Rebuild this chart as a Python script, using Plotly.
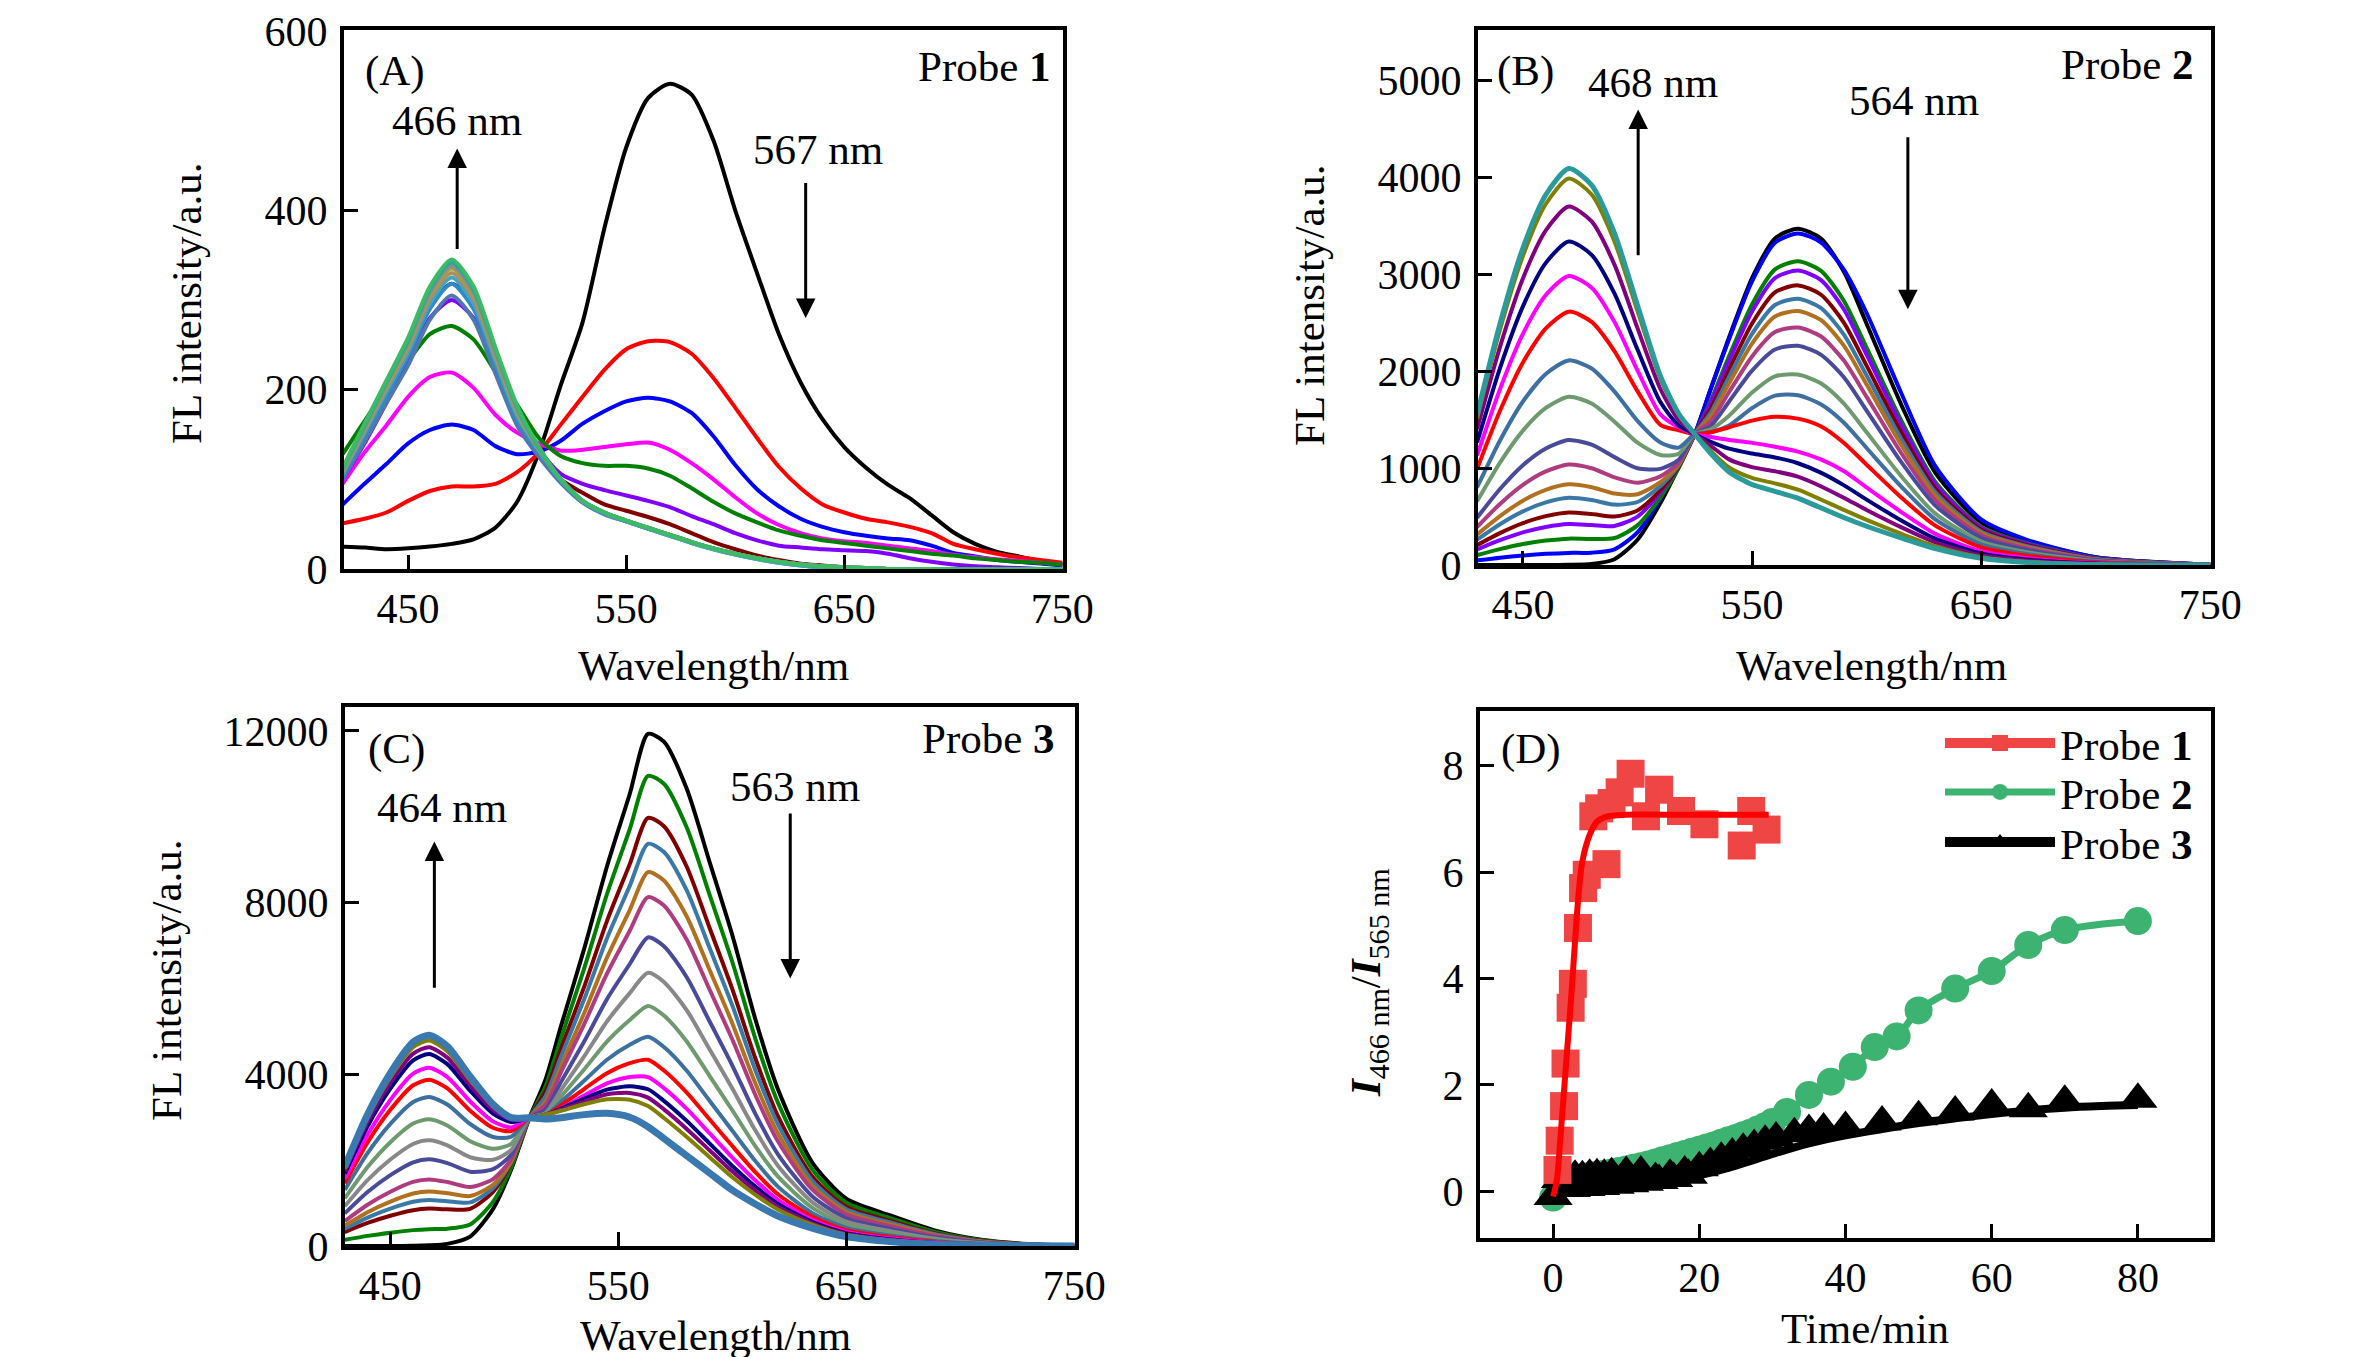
import plotly.graph_objects as go

FONT = "Liberation Serif"

# ---------------- (A) Probe 1 spectra ----------------
wl_a = [420, 430, 440, 450, 460, 470, 480, 490, 500, 510, 520, 530, 540, 550, 560, 570, 580,
        590, 600, 610, 620, 630, 640, 650, 660, 670, 680, 690, 700, 710, 720, 730, 740, 750]
a_black = [25, 24, 22, 23, 25, 28, 33, 46, 75, 130, 205, 275, 380, 470, 525, 541, 529, 478, 400, 330,
           262, 208, 167, 136, 113, 94, 79, 60, 41, 28, 19, 14, 9, 5]
a_red = [51, 56, 63, 76, 87, 92, 92, 95, 108, 130, 161, 192, 222, 245, 254, 253, 240, 213, 180, 146,
         114, 90, 72, 63, 56, 52, 47, 40, 28, 22, 17, 13, 10, 7]
a_blue = [72, 95, 117, 140, 155, 161, 155, 137, 128, 131, 143, 162, 176, 187, 191, 187, 174, 148, 116, 89,
          70, 56, 47, 41, 37, 34, 32, 26, 18, 14, 10, 8, 6, 4]
a_magenta = [95, 130, 160, 192, 214, 219, 202, 172, 152, 140, 132, 133, 136, 139, 141, 133, 118, 100, 80, 62,
             49, 40, 34, 31, 29, 26, 23, 20, 16, 13, 11, 9, 7, 5]
a_green = [128, 165, 200, 232, 262, 271, 256, 220, 183, 146, 126, 118, 115, 115, 112, 104, 90, 75, 62, 52,
           43, 37, 32, 29, 26, 23, 20, 17, 15, 12, 10, 8, 7, 5]
a_violet = [100, 140, 185, 230, 280, 300, 280, 225, 170, 133, 106, 95, 88, 82, 76, 69, 59, 50, 40, 32,
            26, 24, 22, 21, 20, 17, 12, 8, 5, 3, 2, 1, 0, 0]
a_darkred = [105, 150, 195, 242, 295, 318, 296, 236, 174, 132, 100, 85, 72, 65, 58, 50, 40, 30, 22, 15,
             10, 6, 4, 2, 1, 0, 0, 0, 0, 0, 0, 0, 0, 0]
a_slate = [100, 142, 185, 227, 278, 305, 278, 218, 160, 125, 96, 74, 61, 53, 45, 38, 30, 23, 17, 12,
           8, 5, 3, 2, 1, 0, 0, 0, 0, 0, 0, 0, 0, 0]
a_c1 = [104, 149, 193, 237, 290, 318, 290, 228, 167, 130, 98, 75, 62, 53, 45, 37, 29, 22, 16, 11,
        7, 4, 2, 1, 0, 0, 0, 0, 0, 0, 0, 0, 0, 0]
a_c2 = [106, 152, 198, 242, 296, 325, 296, 233, 171, 132, 99, 76, 62, 53, 45, 37, 29, 22, 16, 11,
        7, 4, 2, 1, 0, 0, 0, 0, 0, 0, 0, 0, 0, 0]
a_c3 = [108, 154, 201, 246, 301, 330, 301, 236, 174, 133, 100, 76, 63, 54, 46, 38, 30, 23, 17, 12,
        8, 5, 3, 2, 1, 0, 0, 0, 0, 0, 0, 0, 0, 0]
a_c4 = [110, 157, 204, 250, 306, 335, 306, 240, 176, 134, 100, 76, 63, 54, 46, 38, 30, 23, 17, 12,
        8, 5, 3, 2, 1, 0, 0, 0, 0, 0, 0, 0, 0, 0]
a_c5 = [111, 158, 206, 252, 308, 338, 308, 242, 178, 135, 100, 76, 63, 54, 46, 38, 30, 23, 17, 12,
        8, 5, 3, 2, 1, 0, 0, 0, 0, 0, 0, 0, 0, 0]
a_c6 = [112, 160, 208, 255, 312, 342, 312, 245, 180, 135, 100, 76, 63, 54, 46, 38, 30, 23, 17, 12,
        8, 5, 3, 2, 1, 0, 0, 0, 0, 0, 0, 0, 0, 0]
a_c7 = [113, 162, 210, 258, 315, 345, 315, 247, 182, 136, 100, 76, 63, 54, 46, 38, 30, 23, 17, 12,
        8, 5, 3, 2, 1, 0, 0, 0, 0, 0, 0, 0, 0, 0]
curves_a = [a_black, a_red, a_blue, a_magenta, a_green, a_violet, a_darkred, a_slate,
            a_c1, a_c2, a_c3, a_c4, a_c5, a_c6, a_c7]
colors_a = ["#000000", "#ff0000", "#0000ff", "#ff00ff", "#008000", "#8000ff", "#800000", "#4f79ad",
            "#2e8bc9", "#3ca7c8", "#a89060", "#a8a040", "#8c8c8c", "#26a6a6", "#3cba64"]

# ---------------- (B) Probe 2 spectra ----------------
wl_b = [430, 440, 450, 460, 470, 480, 490, 500, 510, 518, 525, 532, 540, 550, 560, 570, 580,
        590, 600, 615, 630, 650, 670, 700, 750]
b_black = [0, 0, 0, 0, 2, 10, 60, 260, 640, 1010, 1350, 1820, 2350, 2960, 3370, 3470, 3370, 3030, 2490, 1660, 950, 440, 250, 80, 2]
b_blue = [47, 75, 98, 115, 125, 127, 162, 336, 685, 1036, 1350, 1818, 2332, 2926, 3325, 3421, 3330, 3050, 2600, 1780, 1020, 470, 260, 80, 2]
b_green = [102, 164, 216, 252, 272, 268, 279, 409, 698, 1002, 1350, 1696, 2155, 2689, 3050, 3134, 3038, 2729, 2243, 1496, 857, 396, 224, 72, 2]
b_violet = [160, 256, 337, 393, 423, 412, 403, 499, 749, 1024, 1350, 1675, 2108, 2616, 2960, 3038, 2942, 2641, 2170, 1448, 830, 383, 217, 69, 2]
b_darkred = [205, 329, 432, 504, 542, 526, 500, 563, 773, 1019, 1350, 1617, 2019, 2492, 2813, 2885, 2791, 2504, 2057, 1373, 787, 363, 205, 65, 2]
b_steel2 = [262, 421, 553, 646, 693, 670, 623, 650, 814, 1029, 1350, 1574, 1944, 2384, 2683, 2747, 2654, 2380, 1955, 1306, 749, 345, 194, 62, 2]
b_brown = [315, 505, 664, 775, 832, 803, 737, 730, 854, 1039, 1350, 1535, 1875, 2285, 2564, 2621, 2529, 2266, 1862, 1244, 714, 329, 184, 58, 1]
b_pink = [392, 630, 827, 966, 1036, 998, 904, 849, 914, 1057, 1350, 1485, 1785, 2152, 2403, 2451, 2360, 2112, 1735, 1160, 666, 306, 171, 54, 1]
b_slate = [488, 784, 1030, 1203, 1290, 1241, 1113, 998, 992, 1087, 1350, 1434, 1687, 2005, 2224, 2261, 2171, 1939, 1593, 1066, 613, 281, 156, 49, 1]
b_greygreen = [657, 1056, 1386, 1620, 1735, 1667, 1479, 1262, 1135, 1148, 1350, 1400, 1540, 1779, 1947, 1965, 1875, 1668, 1370, 919, 530, 242, 132, 41, 1]
b_steel = [800, 1285, 1687, 1971, 2111, 2027, 1789, 1487, 1264, 1211, 1350, 1370, 1440, 1618, 1747, 1751, 1659, 1471, 1207, 812, 470, 213, 114, 35, 1]
b_red = [990, 1591, 2090, 2441, 2614, 2508, 2205, 1794, 1446, 1390, 1350, 1370, 1420, 1490, 1530, 1510, 1432, 1262, 1035, 699, 406, 182, 96, 29, 1]
b_magenta = [1130, 1815, 2384, 2785, 2982, 2860, 2506, 2008, 1554, 1420, 1350, 1320, 1290, 1260, 1220, 1170, 1090, 970, 800, 548, 321, 142, 71, 21, 0]
b_navy = [1265, 2032, 2668, 3117, 3338, 3200, 2799, 2223, 1681, 1440, 1350, 1270, 1200, 1150, 1110, 1050, 953, 824, 675, 461, 272, 119, 57, 16, 0]
b_purple = [1401, 2251, 2956, 3453, 3698, 3545, 3097, 2444, 1816, 1494, 1350, 1230, 1090, 1010, 967, 912, 813, 694, 568, 391, 233, 100, 45, 12, 0]
b_olive = [1511, 2428, 3188, 3725, 3988, 3822, 3336, 2621, 1920, 1551, 1350, 1176, 1006, 898, 842, 777, 676, 569, 465, 323, 194, 81, 34, 8, 0]
b_teal = [1550, 2490, 3270, 3820, 4090, 3920, 3420, 2680, 1950, 1560, 1350, 1150, 960, 830, 760, 690, 590, 490, 400, 280, 170, 70, 27, 6, 0]
curves_b = [b_black, b_blue, b_green, b_violet, b_darkred, b_steel2, b_brown, b_pink, b_slate,
            b_greygreen, b_steel, b_red, b_magenta, b_navy, b_purple, b_olive, b_teal]
colors_b = ["#000000", "#0000ff", "#008000", "#8000ff", "#800000", "#3a78a8", "#b07020", "#b03c80", "#4a4a9a",
            "#6f9a70", "#3d6fa0", "#ff0000", "#ff00ff", "#000080", "#800080", "#808000", "#2a9a9a"]

# ---------------- (C) Probe 3 spectra ----------------
wl_c = [430, 440, 450, 460, 467, 475, 485, 495, 503, 511, 518, 525, 535, 545, 555, 563, 570,
        580, 590, 600, 610, 620, 635, 650, 670, 690, 710, 730, 750]
c_black = [0, 0, 0, 5, 15, 50, 220, 860, 1780, 2985, 3870, 5150, 6920, 8840, 10530, 11930, 11750, 10650, 8950, 7240, 5300, 3650, 1950, 1100, 700, 345, 140, 45, 5]
c_green = [142, 236, 310, 370, 392, 403, 502, 1028, 1832, 2985, 3711, 4865, 6464, 8194, 9708, 10951, 10768, 9747, 8186, 6616, 4845, 3339, 1787, 1007, 637, 314, 127, 41, 5]
c_darkred = [324, 536, 705, 835, 871, 854, 866, 1261, 1938, 2985, 3595, 4618, 6037, 7569, 8896, 9971, 9779, 8835, 7413, 5983, 4385, 3024, 1623, 913, 573, 281, 114, 36, 4]
c_steelblue = [400, 662, 870, 1030, 1072, 1041, 1015, 1345, 1954, 2985, 3484, 4431, 5747, 7165, 8388, 9369, 9177, 8282, 6946, 5602, 4107, 2834, 1523, 855, 535, 262, 106, 34, 4]
c_brown = [475, 788, 1035, 1224, 1272, 1229, 1163, 1424, 1961, 2985, 3354, 4219, 5423, 6717, 7826, 8708, 8516, 7676, 6434, 5185, 3803, 2625, 1414, 793, 494, 241, 98, 31, 3]
c_pink = [581, 962, 1265, 1495, 1551, 1491, 1374, 1559, 2021, 2985, 3282, 4070, 5168, 6345, 7344, 8126, 7930, 7135, 5976, 4810, 3530, 2438, 1317, 737, 456, 222, 90, 29, 3]
c_slate = [759, 1257, 1651, 1950, 2021, 1932, 1731, 1789, 2128, 2985, 3176, 3837, 4763, 5749, 6569, 7188, 6984, 6261, 5235, 4204, 3089, 2137, 1160, 647, 394, 191, 78, 24, 3]
c_grey = [925, 1533, 2014, 2377, 2462, 2346, 2067, 2009, 2237, 2985, 3094, 3643, 4416, 5231, 5891, 6365, 6151, 5492, 4583, 3669, 2700, 1871, 1022, 567, 340, 164, 66, 21, 2]
c_greygreen = [1110, 1839, 2417, 2852, 2952, 2807, 2442, 2263, 2380, 2985, 3049, 3488, 4113, 4762, 5264, 5593, 5368, 4765, 3965, 3162, 2331, 1620, 892, 492, 288, 138, 56, 17, 2]
c_steel = [1306, 2164, 2844, 3355, 3471, 3295, 2842, 2540, 2545, 2985, 3034, 3368, 3849, 4339, 4687, 4874, 4634, 4083, 3385, 2684, 1984, 1383, 770, 422, 239, 112, 46, 14, 1]
c_red = [1458, 2415, 3174, 3744, 3873, 3673, 3152, 2755, 2677, 2985, 3029, 3283, 3657, 4026, 4259, 4338, 4087, 3573, 2951, 2328, 1726, 1207, 680, 369, 202, 94, 38, 11, 1]
c_magenta = [1563, 2590, 3404, 4014, 4152, 3936, 3367, 2903, 2763, 2985, 3016, 3212, 3506, 3787, 3936, 3936, 3678, 3193, 2628, 2061, 1532, 1075, 612, 330, 174, 80, 32, 9, 1]
c_navy = [1684, 2789, 3665, 4323, 4470, 4236, 3615, 3084, 2888, 2985, 3057, 3205, 3435, 3643, 3720, 3651, 3382, 2914, 2389, 1864, 1389, 978, 563, 301, 153, 69, 28, 8, 0]
c_purple = [1745, 2890, 3798, 4480, 4632, 4388, 3740, 3172, 2944, 2985, 3062, 3180, 3370, 3533, 3566, 3457, 3183, 2728, 2231, 1733, 1294, 914, 530, 282, 140, 62, 25, 7, 0]
c_olive = [1804, 2988, 3927, 4632, 4789, 4536, 3861, 3257, 2997, 2985, 3064, 3152, 3302, 3419, 3409, 3259, 2981, 2539, 2070, 1601, 1198, 849, 496, 262, 126, 55, 22, 6, 0]
c_final = [1850, 3065, 4028, 4750, 4911, 4650, 3950, 3300, 2990, 2985, 2960, 2990, 3060, 3090, 3000, 2780, 2503, 2102, 1701, 1300, 979, 698, 417, 217, 96, 40, 16, 4, 0]
curves_c = [c_black, c_green, c_darkred, c_steelblue, c_brown, c_pink, c_slate, c_grey, c_greygreen,
            c_steel, c_red, c_magenta, c_navy, c_purple, c_olive, c_final]
colors_c = ["#000000", "#008000", "#800000", "#3a78a8", "#b07020", "#b03c80", "#4a4a9a", "#888888", "#6f9a70",
            "#3d6fa0", "#ff0000", "#ff00ff", "#000080", "#800080", "#808000", "#3a78b0"]

# ---------------- (D) ratio vs time ----------------
t_p1 = [0.6, 0.9, 1.5, 1.7, 2.4, 2.7, 3.4, 4.1, 4.6, 5.5, 6.3, 7.3, 8.0, 9.1, 10.6, 12.7, 14.5, 17.5, 20.7, 25.8, 27.1, 29.2]
r_p1 = [0.4, 0.95, 1.6, 2.4, 3.45, 3.9, 4.95, 5.7, 5.95, 7.05, 7.2, 6.15, 7.3, 7.5, 7.85, 7.05, 7.55, 7.15, 6.9, 6.5, 7.15, 6.8]
t_fit1 = [0, 0.5, 1, 1.5, 2, 2.5, 3, 3.5, 4, 5, 6, 7, 8, 10, 15, 20, 25, 29.5]
r_fit1 = [-0.1, 0.2, 1.0, 1.9, 2.8, 3.7, 4.7, 5.6, 6.2, 6.7, 6.95, 7.03, 7.06, 7.08, 7.08, 7.08, 7.08, 7.08]

t_p2 = [0, 1, 2, 3, 4, 5, 6, 7, 8, 9, 10, 11, 12, 13, 14, 15, 16, 17, 18, 19, 20, 21, 22, 23, 24, 25,
        26, 27, 28, 29, 30, 32, 35, 38, 41, 44, 47, 50, 55, 60, 65, 70, 80]
r_p2 = [-0.12, 0.12, 0.18, 0.22, 0.26, 0.29, 0.31, 0.33, 0.35, 0.38, 0.41, 0.44, 0.47, 0.5, 0.54, 0.58,
        0.62, 0.66, 0.7, 0.74, 0.78, 0.82, 0.86, 0.91, 0.96, 1.0, 1.05, 1.1, 1.16, 1.22, 1.3, 1.49, 1.81,
        2.06, 2.34, 2.71, 2.91, 3.4, 3.81, 4.14, 4.63, 4.91, 5.08]

t_p3 = [0, 1, 2, 3, 4, 5, 6, 7, 8, 10, 12, 14, 16, 18, 20, 21.5, 23, 24.5, 26, 27.5, 29, 30.5, 33, 35,
        37, 40, 45, 50, 55, 60, 65, 70, 80, 2.5, 4.5, 6.5, 8.5, 10.5, 12.5, 14.5, 16.5, 18.5]
r_p3 = [-0.1, 0.22, 0.26, 0.28, 0.27, 0.3, 0.31, 0.3, 0.33, 0.35, 0.36, 0.24, 0.3, 0.36, 0.44, 0.52, 0.62,
        0.7, 0.79, 0.86, 0.94, 1.0, 1.08, 1.14, 1.17, 1.2, 1.3, 1.4, 1.49, 1.62, 1.55, 1.69, 1.73,
        0.05, 0.07, 0.09, 0.11, 0.14, 0.17, 0.2, 0.24, 0.3]
t_fit3 = [0, 5, 10, 15, 20, 25, 30, 35, 40, 45, 50, 55, 60, 65, 70, 75, 80]
r_fit3 = [-0.05, 0.03, 0.1, 0.19, 0.3, 0.48, 0.7, 0.9, 1.05, 1.17, 1.28, 1.37, 1.45, 1.52, 1.57, 1.6, 1.62]

fig = go.Figure()

for ys, col in zip(curves_a, colors_a):
    fig.add_trace(go.Scatter(x=wl_a, y=ys, mode="lines", line=dict(color=col, width=4, shape="spline", smoothing=0.7),
                             showlegend=False, xaxis="x", yaxis="y"))
for i, (ys, col) in enumerate(zip(curves_b, colors_b)):
    w = 5 if i == len(curves_b) - 1 else 4
    fig.add_trace(go.Scatter(x=wl_b, y=ys, mode="lines", line=dict(color=col, width=w, shape="spline", smoothing=0.7),
                             showlegend=False, xaxis="x2", yaxis="y2"))
for i, (ys, col) in enumerate(zip(curves_c, colors_c)):
    w = 7 if i == len(curves_c) - 1 else 4
    fig.add_trace(go.Scatter(x=wl_c, y=ys, mode="lines", line=dict(color=col, width=w, shape="spline", smoothing=0.7),
                             showlegend=False, xaxis="x3", yaxis="y3"))

red_pt = "#f04545"
green_pt = "#3cb371"
# probe 2
fig.add_trace(go.Scatter(x=t_p2, y=r_p2, mode="lines+markers", name="Probe <b>2</b>", legend="legend2",
                         line=dict(color=green_pt, width=7, shape="spline"),
                         marker=dict(symbol="circle", size=28, color=green_pt), xaxis="x4", yaxis="y4"))
# probe 3
fig.add_trace(go.Scatter(x=t_fit3, y=r_fit3, mode="lines", line=dict(color="black", width=8, shape="spline"),
                         showlegend=False, xaxis="x4", yaxis="y4"))
fig.add_trace(go.Scatter(x=t_p3, y=r_p3, mode="markers", showlegend=False,
                         marker=dict(symbol="triangle-up", size=34, color="black"), xaxis="x4", yaxis="y4"))
fig.add_trace(go.Scatter(x=[None], y=[None], mode="lines+markers", name="Probe <b>3</b>", legend="legend3",
                         line=dict(color="black", width=10), marker=dict(symbol="triangle-up", size=34, color="black"),
                         xaxis="x4", yaxis="y4"))
# probe 1
fig.add_trace(go.Scatter(x=t_p1, y=r_p1, mode="markers", showlegend=False,
                         marker=dict(symbol="square", size=28, color=red_pt), xaxis="x4", yaxis="y4"))
fig.add_trace(go.Scatter(x=t_fit1, y=r_fit1, mode="lines", line=dict(color="#ff0000", width=6, shape="spline"),
                         showlegend=False, xaxis="x4", yaxis="y4"))
fig.add_trace(go.Scatter(x=[None], y=[None], mode="lines+markers", name="Probe <b>1</b>", legend="legend",
                         line=dict(color=red_pt, width=10), marker=dict(symbol="square", size=28, color=red_pt),
                         xaxis="x4", yaxis="y4"))


def axis(domain, rng, tickvals, anchor, standoff):
    return dict(domain=domain, range=rng, tickvals=tickvals, anchor=anchor, showline=True, mirror=True,
                linecolor="black", linewidth=4, ticks="inside", ticklen=14, tickwidth=3, tickcolor="black",
                showgrid=False, zeroline=False, ticklabelstandoff=standoff, tickformat="d",
                tickfont=dict(family=FONT, size=42, color="black"))


W, H = 2362, 1357


def leg(y):
    return dict(x=1932 / W, y=1 - y / H, xanchor="left", yanchor="middle", bgcolor="rgba(0,0,0,0)",
                font=dict(family=FONT, size=43, color="black"), itemwidth=110)


fig.update_layout(
    width=W, height=H, margin=dict(l=0, r=0, t=0, b=0, autoexpand=False),
    paper_bgcolor="white", plot_bgcolor="white",
    xaxis=axis([336 / W, 1055 / W], [420.6, 750.3], [450, 550, 650, 750], "y", 0),
    yaxis=axis([1 - 561 / H, 1 - 22 / H], [0, 601], [0, 200, 400, 600], "x", 4),
    xaxis2=axis([1470 / W, 2203 / W], [430.4, 750.3], [450, 550, 650, 750], "y2", 0),
    yaxis2=axis([1 - 557 / H, 1 - 22 / H], [0, 5520], [0, 1000, 2000, 3000, 4000, 5000], "x2", 4),
    xaxis3=axis([337 / W, 1067 / W], [430.1, 750.3], [450, 550, 650, 750], "y3", 0),
    yaxis3=axis([1 - 1238 / H, 1 - 699 / H], [0, 12556], [0, 4000, 8000, 12000], "x3", 4),
    xaxis4=axis([1472 / W, 2203 / W], [-10, 90], [0, 20, 40, 60, 80], "y4", 0),
    yaxis4=axis([1 - 1230 / H, 1 - 703 / H], [-0.88, 9.03], [0, 2, 4, 6, 8], "x4", 4),
    legend=leg(735), legend2=leg(784), legend3=leg(834),
)


def label(x, y, text, xanchor="center", angle=0):
    fig.add_annotation(x=x / W, y=1 - y / H, xref="paper", yref="paper", text=text, showarrow=False,
                       xanchor=xanchor, yanchor="middle", textangle=angle,
                       font=dict(family=FONT, size=43, color="black"))


label(387, 63, "(A)")
label(1045, 59, "Probe <b>1</b>", "right")
label(449, 112, "466 nm")
label(810, 141, "567 nm")
label(1517, 63, "(B)")
label(2188, 57, "Probe <b>2</b>", "right")
label(1645, 74, "468 nm")
label(1906, 92, "564 nm")
label(388, 741, "(C)")
label(1049, 730, "Probe <b>3</b>", "right")
label(434, 799, "464 nm")
label(787, 778, "563 nm")
label(1523, 741, "(D)")

label(179, 295, "FL intensity/a.u.", angle=-90)
label(1301, 298, "FL intensity/a.u.", angle=-90)
label(158, 973, "FL intensity/a.u.", angle=-90)
label(1361, 975, "<b><i>I</i></b><sub>466 nm</sub>/<b><i>I</i></b><sub>565 nm</sub>", angle=-90)
label(705, 657, "Wavelength/nm")
label(1863, 657, "Wavelength/nm")
label(707, 1327, "Wavelength/nm")
label(1857, 1320, "Time/min")


def arrow(xr, yr, x, y_tail, y_head):
    fig.add_annotation(x=x, y=y_head, ax=x, ay=y_tail, xref=xr, yref=yr, axref=xr, ayref=yr, text="",
                       showarrow=True, arrowhead=2, arrowsize=1.3, arrowwidth=3, arrowcolor="black")


arrow("x", "y", 472.5, 355, 469)
arrow("x", "y", 632.3, 432, 280)
arrow("x2", "y2", 500.3, 3180, 4700)
arrow("x2", "y2", 618.0, 4430, 2640)
arrow("x3", "y3", 469.3, 5980, 9420)
arrow("x3", "y3", 625.4, 10110, 6230)

fig.write_html("out.html")
